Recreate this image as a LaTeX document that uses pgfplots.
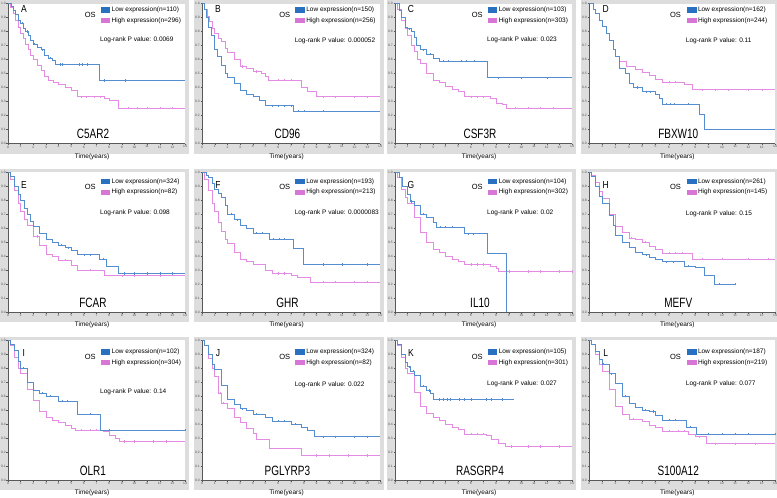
\documentclass[border=0pt]{standalone}
\usepackage{fontspec}
\setmainfont{Liberation Sans}
\usepackage{graphicx}
\usepackage{pgfplots}
\pgfplotsset{compat=1.18}

\definecolor{kmblue}{RGB}{85,142,208}
\definecolor{kmpink}{RGB}{228,140,228}
\definecolor{legblue}{RGB}{40,112,192}
\definecolor{legpink}{RGB}{215,118,215}
\definecolor{framegray}{RGB}{221,221,221}

\pgfplotsset{
 km/.style={
  scale only axis, height=140pt,
  xmin=0,xmax=14,ymin=0,ymax=1,
  xtick={0,1,2,3,4,5,6,7,8,9,10,11,12,13,14},
  ytick={0,0.1,0.2,0.3,0.4,0.5,0.6,0.7,0.8,0.9,1},
  axis x line*=bottom, axis y line*=left,
  axis line style={-, black!65, line width=0.35pt},
  tick style={black!65, line width=0.3pt},
  tick align=outside, major tick length=1.5pt,
  tick label style={font=\fontsize{3.3}{3.6}\selectfont, text=black!70, inner sep=0.5pt},
  /pgf/number format/assume math mode=true,
  yticklabel style={/pgf/number format/fixed, /pgf/number format/fixed zerofill, /pgf/number format/precision=1},
  xlabel={Time(years)},
  xlabel style={font=\fontsize{6.5}{7}\selectfont, at={(axis description cs:0.475,-0.093)}, anchor=center},
  clip=false,
  axis background/.style={fill=white},
 },
 low/.style={kmblue, const plot, mark=none, line width=0.55pt},
 high/.style={kmpink, const plot, mark=none, line width=0.55pt},
 lowc/.style={kmblue, only marks, mark=|, mark size=1.1pt, mark options={line width=0.4pt}},
 highc/.style={kmpink, only marks, mark=|, mark size=1.1pt, mark options={line width=0.4pt}},
}

% frame: left, top, width (pt numbers, y downward)
\newcommand{\kmframe}[3]{%
 \begin{scope}[x=1pt,y=-1pt]
 \fill[framegray] ({#1-8},{#2-3.5}) rectangle ({#1+#3+4},{#2+150});
 \end{scope}}

% #1 letter, #2 letter y, #3 legend shift, #4 nlow, #5 nhigh, #6 p, #7 logrank y, #8 gene
\newcommand{\kmdecor}[8]{%
 \node[font=\fontsize{8.5}{9}\selectfont] at (axis description cs:0.09,#2) {\scalebox{1}[1.2]{#1}};
 \node[font=\fontsize{7.5}{8}\selectfont, yshift=#3] at (axis description cs:0.465,0.918) {OS};
 \fill[legblue, yshift=#3] (axis description cs:0.525,0.935) rectangle (axis description cs:0.578,0.972);
 \fill[legpink, yshift=#3] (axis description cs:0.525,0.858) rectangle (axis description cs:0.578,0.895);
 \node[font=\fontsize{6.5}{7}\selectfont, anchor=west, inner sep=0pt, yshift=#3] at (axis description cs:0.585,0.953) {Low expression(n=#4)};
 \node[font=\fontsize{6.5}{7}\selectfont, anchor=west, inner sep=0pt, yshift=#3] at (axis description cs:0.585,0.877) {High expression(n=#5)};
 \node[font=\fontsize{6.5}{7}\selectfont, anchor=west, inner sep=0pt] at (axis description cs:0.52,#7) {Log-rank P value: #6};
 \node[font=\fontsize{10}{12}\selectfont] at (axis description cs:0.48,0.068) {\scalebox{1}[1.35]{#8}};
}

\begin{document}
\begin{tikzpicture}
\path[use as bounding box] (0,0) rectangle (777pt,-498pt);

\kmframe{8}{3.5}{177}\kmframe{202}{3.5}{178}\kmframe{395}{3.5}{177}\kmframe{589}{3.5}{186}
\kmframe{8}{172}{177}\kmframe{202}{172}{178}\kmframe{395}{172}{177}\kmframe{589}{172}{186}
\kmframe{8}{340}{177}\kmframe{202}{340}{178}\kmframe{395}{340}{177}\kmframe{589}{340}{186}

% ---------- A C5AR2
\begin{axis}[km, at={(8pt,-3.5pt)}, anchor=north west, width=177pt]
\addplot[high] coordinates {(0,1)(0.2,0.97)(0.4,0.93)(0.6,0.88)(0.8,0.83)(1.0,0.79)(1.2,0.75)(1.4,0.71)(1.6,0.67)(1.8,0.63)(2.0,0.60)(2.3,0.56)(2.6,0.52)(2.9,0.48)(3.2,0.455)(3.6,0.44)(4.0,0.42)(4.5,0.40)(5.0,0.38)(5.5,0.335)(7.6,0.325)(8.0,0.31)(8.7,0.255)(14,0.255)};
\addplot[highc] coordinates {(5.8,0.335)(6.2,0.335)(6.8,0.335)(7.3,0.335)(9.5,0.255)(10.2,0.255)(11,0.255)(12,0.255)(13,0.255)};
\addplot[low] coordinates {(0,1)(0.25,0.98)(0.45,0.95)(0.6,0.92)(0.8,0.88)(1.0,0.86)(1.2,0.82)(1.4,0.80)(1.6,0.77)(1.8,0.74)(2.0,0.71)(2.3,0.69)(2.6,0.67)(2.9,0.63)(3.2,0.61)(3.5,0.595)(3.7,0.565)(7.2,0.45)(14,0.45)};
\addplot[lowc] coordinates {(1.1,0.86)(1.5,0.80)(2.1,0.71)(2.7,0.67)(3.3,0.61)(4.1,0.565)(4.3,0.565)(5.6,0.565)(5.9,0.565)(6.3,0.565)(7.6,0.45)(9.3,0.45)};
\kmdecor{A}{0.96}{0pt}{110}{296}{0.0069}{0.74}{C5AR2}
\end{axis}

% ---------- B CD96
\begin{axis}[km, at={(202pt,-3.5pt)}, anchor=north west, width=178pt]
\addplot[high] coordinates {(0,1)(0.2,0.96)(0.4,0.91)(0.6,0.87)(0.8,0.82)(1.0,0.79)(1.3,0.75)(1.5,0.73)(1.8,0.68)(2.0,0.65)(2.5,0.60)(3.0,0.55)(3.5,0.54)(4.0,0.515)(4.7,0.50)(5.0,0.48)(5.2,0.455)(7.8,0.40)(8.3,0.37)(9.0,0.335)(14,0.335)};
\addplot[highc] coordinates {(3.2,0.55)(4.3,0.515)(6,0.455)(6.5,0.455)(7,0.455)(9.5,0.335)(10.5,0.335)(12,0.335)(13,0.335)};
\addplot[low] coordinates {(0,1)(0.15,0.96)(0.3,0.90)(0.5,0.83)(0.7,0.77)(1.0,0.67)(1.2,0.62)(1.5,0.56)(1.8,0.50)(2.0,0.47)(2.5,0.43)(3.0,0.38)(3.5,0.355)(4.0,0.335)(4.5,0.31)(5.0,0.27)(7.2,0.23)(14,0.23)};
\addplot[lowc] coordinates {(5.5,0.27)(6.0,0.27)(6.5,0.27)(7.0,0.27)(7.6,0.23)(8.0,0.23)(9.5,0.23)};
\kmdecor{B}{0.96}{0pt}{150}{256}{0.000052}{0.735}{CD96}
\end{axis}

% ---------- C CSF3R
\begin{axis}[km, at={(395pt,-3.5pt)}, anchor=north west, width=177pt]
\addplot[high] coordinates {(0,1)(0.2,0.96)(0.5,0.88)(0.8,0.82)(1.0,0.77)(1.3,0.70)(1.5,0.66)(1.8,0.60)(2.0,0.57)(2.5,0.50)(3.0,0.455)(3.5,0.435)(4.0,0.41)(4.5,0.39)(5.0,0.37)(5.5,0.335)(7.5,0.32)(8.0,0.29)(8.5,0.28)(8.8,0.255)(14,0.255)};
\addplot[highc] coordinates {(6,0.335)(6.5,0.335)(7,0.335)(9.5,0.255)(10.5,0.255)(11.5,0.255)(12.5,0.255)};
\addplot[low] coordinates {(0,1)(0.3,0.95)(0.5,0.90)(0.8,0.83)(1.0,0.82)(1.3,0.80)(1.5,0.76)(1.7,0.70)(2.0,0.67)(2.5,0.64)(3.0,0.61)(3.5,0.59)(7.3,0.47)(14,0.47)};
\addplot[lowc] coordinates {(1.1,0.82)(2.2,0.67)(2.8,0.64)(3.8,0.59)(4.2,0.59)(5.2,0.59)(5.6,0.59)(6.3,0.59)(8.2,0.47)(10,0.47)(12,0.47)};
\kmdecor{C}{0.96}{0pt}{103}{303}{0.023}{0.74}{CSF3R}
\end{axis}

% ---------- D FBXW10
\begin{axis}[km, at={(589pt,-3.5pt)}, anchor=north west, width=186pt]
\addplot[high] coordinates {(0,1)(0.3,0.96)(0.5,0.93)(0.8,0.88)(1.0,0.84)(1.3,0.79)(1.5,0.74)(1.8,0.67)(2.0,0.62)(2.3,0.585)(2.8,0.55)(3.5,0.53)(4.0,0.51)(4.5,0.49)(5.0,0.46)(5.5,0.44)(7.2,0.42)(7.8,0.385)(14,0.385)};
\addplot[highc] coordinates {(6.0,0.44)(6.5,0.44)(8.5,0.385)(9.5,0.385)(10.5,0.385)(12,0.385)(13,0.385)};
\addplot[low] coordinates {(0,1)(0.3,0.96)(0.5,0.93)(0.8,0.88)(1.0,0.84)(1.3,0.79)(1.5,0.74)(1.8,0.67)(2.0,0.62)(2.3,0.54)(2.7,0.50)(3.0,0.43)(3.3,0.40)(4.0,0.37)(5.0,0.35)(5.3,0.32)(5.5,0.28)(8.3,0.21)(8.7,0.105)(14,0.105)};
\addplot[lowc] coordinates {(3.6,0.40)(4.3,0.37)(4.6,0.37)(5.8,0.28)(6.1,0.28)(6.4,0.28)(7.5,0.28)};
\kmdecor{D}{0.96}{0pt}{162}{244}{0.11}{0.73}{FBXW10}
\end{axis}

% ---------- E FCAR
\begin{axis}[km, at={(8pt,-172pt)}, anchor=north west, width=177pt]
\addplot[high] coordinates {(0,1)(0.2,0.95)(0.5,0.87)(0.8,0.78)(1.0,0.72)(1.3,0.66)(1.5,0.62)(2.0,0.54)(2.5,0.48)(3.0,0.41)(3.5,0.40)(4.0,0.37)(5.0,0.335)(5.5,0.30)(7.6,0.26)(14,0.26)};
\addplot[highc] coordinates {(1.5,0.62)(2.3,0.54)(4.5,0.37)(6.5,0.30)(9,0.26)(10,0.26)(12,0.26)};
\addplot[low] coordinates {(0,1)(0.2,0.97)(0.5,0.90)(0.8,0.84)(1.0,0.80)(1.3,0.74)(1.5,0.70)(1.8,0.65)(2.0,0.61)(2.5,0.565)(3.0,0.52)(3.5,0.50)(4.0,0.48)(4.5,0.46)(5.0,0.44)(5.5,0.41)(7.2,0.38)(7.8,0.33)(8.7,0.275)(14,0.275)};
\addplot[lowc] coordinates {(4.2,0.48)(4.8,0.46)(6,0.41)(6.5,0.41)(7.5,0.38)(9.2,0.275)(10,0.275)(11,0.275)(12,0.275)(13,0.275)};
\kmdecor{E}{0.905}{-3pt}{324}{82}{0.098}{0.705}{FCAR}
\end{axis}

% ---------- F GHR
\begin{axis}[km, at={(202pt,-172pt)}, anchor=north west, width=178pt]
\addplot[high] coordinates {(0,1)(0.2,0.95)(0.5,0.87)(0.8,0.78)(1.0,0.72)(1.3,0.64)(1.5,0.58)(1.8,0.52)(2.0,0.49)(2.5,0.43)(3.0,0.38)(3.5,0.365)(4.0,0.34)(5.0,0.30)(5.5,0.275)(7.0,0.265)(7.5,0.245)(8.5,0.215)(14,0.215)};
\addplot[highc] coordinates {(6,0.275)(6.5,0.275)(9.5,0.215)(10.5,0.215)(12,0.215)(13,0.215)};
\addplot[low] coordinates {(0,1)(0.3,0.98)(0.5,0.96)(0.8,0.92)(1.0,0.88)(1.3,0.85)(1.5,0.82)(1.8,0.76)(2.0,0.70)(2.5,0.66)(3.0,0.62)(3.5,0.60)(4.0,0.565)(5.0,0.56)(5.3,0.52)(7.2,0.455)(8.0,0.34)(14,0.34)};
\addplot[lowc] coordinates {(2.3,0.70)(2.8,0.66)(4.3,0.565)(4.7,0.565)(5.6,0.52)(6.1,0.52)(6.5,0.52)(9.5,0.34)(11,0.34)(13,0.34)};
\kmdecor{F}{0.905}{-3pt}{193}{213}{0.0000083}{0.705}{GHR}
\end{axis}

% ---------- G IL10
\begin{axis}[km, at={(395pt,-172pt)}, anchor=north west, width=177pt]
\addplot[high] coordinates {(0,1)(0.2,0.96)(0.5,0.88)(0.8,0.82)(1.0,0.78)(1.5,0.68)(2.0,0.57)(2.5,0.50)(3.0,0.445)(3.5,0.43)(4.0,0.40)(4.5,0.38)(5.0,0.36)(5.5,0.34)(7.5,0.33)(8.0,0.31)(8.2,0.29)(14,0.29)};
\addplot[highc] coordinates {(6,0.34)(6.5,0.34)(7,0.34)(9,0.29)(10.5,0.29)(11.5,0.29)(13,0.29)(14,0.29)};
\addplot[low] coordinates {(0,1)(0.3,0.96)(0.6,0.90)(1.0,0.84)(1.2,0.79)(1.5,0.76)(2.0,0.70)(2.5,0.68)(3.0,0.64)(3.3,0.605)(5.5,0.56)(7.3,0.42)(8.8,0.0)};
\addplot[lowc] coordinates {(1.3,0.79)(2.2,0.70)(3.6,0.605)(4.0,0.605)(4.5,0.605)(5.8,0.56)(6.2,0.56)};
\kmdecor{G}{0.905}{-3pt}{104}{302}{0.02}{0.707}{IL10}
\end{axis}

% ---------- H MEFV
\begin{axis}[km, at={(589pt,-172pt)}, anchor=north west, width=186pt]
\addplot[high] coordinates {(0,1)(0.2,0.98)(0.5,0.93)(0.8,0.86)(1.0,0.81)(1.5,0.70)(2.0,0.61)(2.5,0.57)(3.0,0.53)(3.5,0.52)(4.0,0.50)(4.5,0.47)(5.0,0.45)(5.5,0.42)(7.8,0.38)(14,0.38)};
\addplot[highc] coordinates {(3.2,0.53)(4.2,0.50)(6,0.42)(6.5,0.42)(7,0.42)(8.5,0.38)(10,0.38)(12,0.38)(13.5,0.38)};
\addplot[low] coordinates {(0,1)(0.2,0.97)(0.5,0.90)(0.8,0.83)(1.0,0.78)(1.5,0.69)(1.8,0.62)(2.0,0.55)(2.5,0.50)(3.0,0.46)(3.5,0.43)(4.0,0.41)(4.5,0.39)(5.0,0.38)(5.5,0.36)(7.2,0.33)(8.0,0.32)(8.7,0.26)(9.4,0.20)(11,0.20)};
\addplot[lowc] coordinates {(4.3,0.41)(5.8,0.36)(6.3,0.36)(7.5,0.33)(9.8,0.20)(11,0.20)};
\kmdecor{H}{0.905}{-3pt}{261}{145}{0.15}{0.70}{MEFV}
\end{axis}

% ---------- I OLR1
\begin{axis}[km, at={(8pt,-340pt)}, anchor=north west, width=177pt]
\addplot[high] coordinates {(0,1)(0.2,0.96)(0.5,0.88)(0.8,0.80)(1.0,0.76)(1.5,0.65)(2.0,0.57)(2.5,0.49)(3.0,0.45)(3.5,0.43)(4.0,0.41)(4.5,0.39)(5.0,0.37)(5.3,0.355)(7.5,0.345)(8.0,0.32)(8.5,0.30)(8.8,0.275)(14,0.275)};
\addplot[highc] coordinates {(5.8,0.355)(6.5,0.355)(7,0.355)(9.2,0.275)(10,0.275)(11.5,0.275)(12.5,0.275)};
\addplot[low] coordinates {(0,1)(0.2,0.97)(0.5,0.93)(0.8,0.85)(1.0,0.80)(1.5,0.70)(2.0,0.64)(2.5,0.62)(3.0,0.60)(4.0,0.565)(5.5,0.47)(7.3,0.355)(14,0.355)};
\addplot[lowc] coordinates {(1.2,0.80)(2.7,0.62)(3.3,0.60)(4.3,0.565)(4.7,0.565)(6.5,0.47)(8,0.355)(14,0.355)};
\kmdecor{I}{0.905}{-5.5pt}{102}{304}{0.14}{0.63}{OLR1}
\end{axis}

% ---------- J PGLYRP3
\begin{axis}[km, at={(202pt,-340pt)}, anchor=north west, width=178pt]
\addplot[high] coordinates {(0,1)(0.2,0.96)(0.5,0.87)(0.8,0.80)(1.0,0.74)(1.3,0.62)(1.5,0.55)(2.0,0.51)(2.5,0.45)(3.0,0.41)(3.5,0.37)(4.0,0.335)(4.3,0.29)(5.3,0.23)(7.8,0.175)(14,0.175)};
\addplot[highc] coordinates {(1.4,0.62)(1.7,0.55)(9,0.175)(10,0.175)(11.5,0.175)(13,0.175)};
\addplot[low] coordinates {(0,1)(0.2,0.96)(0.5,0.90)(0.8,0.83)(1.0,0.79)(1.5,0.68)(2.0,0.58)(2.5,0.54)(3.0,0.51)(3.5,0.50)(4.0,0.47)(5.0,0.45)(5.5,0.42)(7.0,0.40)(7.8,0.38)(8.3,0.355)(8.8,0.31)(14,0.31)};
\addplot[lowc] coordinates {(3.2,0.51)(4.3,0.47)(6,0.42)(6.5,0.42)(7.3,0.40)(9.5,0.31)(10.5,0.31)(12,0.31)(13,0.31)};
\kmdecor{J}{0.905}{-5.5pt}{324}{82}{0.022}{0.68}{PGLYRP3}
\end{axis}

% ---------- K RASGRP4
\begin{axis}[km, at={(395pt,-340pt)}, anchor=north west, width=177pt]
\addplot[high] coordinates {(0,1)(0.2,0.96)(0.5,0.88)(0.8,0.80)(1.0,0.76)(1.5,0.63)(2.0,0.53)(2.5,0.48)(3.0,0.45)(3.5,0.43)(4.0,0.40)(4.5,0.38)(5.0,0.36)(5.5,0.33)(7.2,0.32)(7.6,0.29)(8.2,0.265)(8.7,0.24)(14,0.24)};
\addplot[highc] coordinates {(6,0.33)(6.5,0.33)(7,0.33)(9.2,0.24)(10.5,0.24)(11.5,0.24)(13,0.24)};
\addplot[low] coordinates {(0,1)(0.2,0.97)(0.5,0.90)(0.8,0.84)(1.0,0.81)(1.2,0.78)(1.5,0.75)(2.0,0.67)(2.5,0.64)(2.8,0.62)(3.0,0.575)(9.4,0.575)};
\addplot[lowc] coordinates {(1.1,0.81)(1.4,0.78)(2.2,0.67)(2.7,0.64)(3.5,0.575)(3.8,0.575)(4.1,0.575)(4.4,0.575)(5.1,0.575)(5.5,0.575)(6,0.575)(7.2,0.575)(7.6,0.575)(8.5,0.575)};
\kmdecor{K}{0.905}{-5.5pt}{105}{301}{0.027}{0.69}{RASGRP4}
\end{axis}

% ---------- L S100A12
\begin{axis}[km, at={(589pt,-340pt)}, anchor=north west, width=186pt]
\addplot[high] coordinates {(0,1)(0.2,0.97)(0.5,0.90)(0.8,0.83)(1.0,0.78)(1.5,0.65)(2.0,0.53)(2.5,0.47)(3.0,0.435)(4.0,0.42)(4.5,0.39)(5.0,0.38)(5.5,0.35)(7.5,0.33)(8.0,0.31)(8.8,0.26)(14,0.26)};
\addplot[highc] coordinates {(3.3,0.435)(6,0.35)(6.7,0.35)(7.2,0.35)(8.3,0.31)(9.5,0.26)(11,0.26)(12.5,0.26)};
\addplot[low] coordinates {(0,1)(0.2,0.97)(0.5,0.92)(0.8,0.86)(1.0,0.83)(1.5,0.76)(2.0,0.69)(2.5,0.60)(3.0,0.55)(3.5,0.52)(4.0,0.50)(4.5,0.49)(5.0,0.46)(5.5,0.43)(7.3,0.38)(8.1,0.33)(14,0.33)};
\addplot[lowc] coordinates {(1.1,0.83)(1.7,0.76)(2.7,0.60)(4.2,0.50)(4.8,0.49)(6,0.43)(6.5,0.43)(7.6,0.38)(9,0.33)(10,0.33)(11,0.33)(12,0.33)(14,0.33)};
\kmdecor{L}{0.905}{-5.5pt}{187}{219}{0.077}{0.69}{S100A12}
\end{axis}

\end{tikzpicture}
\end{document}
